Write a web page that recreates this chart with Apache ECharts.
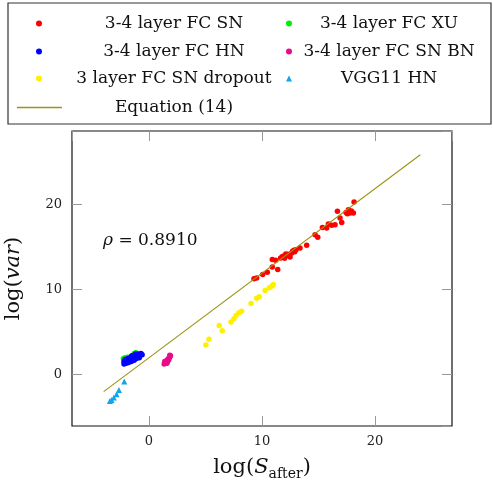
<!DOCTYPE html>
<html>
<head>
<meta charset="utf-8">
<script src="https://cdn.jsdelivr.net/npm/echarts@6/dist/echarts.min.js"></script>
<style>html,body{margin:0;padding:0;background:#fff;}#c{width:493px;height:494px;}</style>
</head>
<body>
<div id="c"></div>
<script>
// ---- data ----
const snX = [9.29,9.53,10.06,10.47,10.91,11.39,10.91,11.21,11.65,11.89,12.18,12.48,12.63,12.83,13.0,13.36,13.95,14.69,14.93,15.34,15.72,15.87,16.17,16.46,16.67,16.9,17.05,17.43,17.64,17.79,18.08,18.14,12.3,12.0,11.8,12.9,17.55,17.9,12.7,12.1];
const snY = [11.26,11.37,11.76,12.04,12.67,12.35,13.53,13.45,13.73,13.92,14.0,13.85,14.31,14.63,14.7,14.9,15.21,16.47,16.16,17.33,17.25,17.73,17.57,17.65,19.22,18.43,17.92,19.1,19.41,19.02,19.02,20.31,14.15,13.7,13.9,14.45,18.95,19.25,14.5,14.2];
const xuX = [-2.25,-2.1,-1.9,-1.3,-1.15,-2.0,-1.6,-0.9,-1.8,-1.4];
const xuY = [1.85,1.95,2.0,2.45,2.55,1.7,2.1,2.3,1.5,1.9];
const hnX = [-2.2,-2.2,-2.1,-2.0,-1.95,-1.85,-1.8,-1.7,-1.6,-1.55,-1.45,-1.4,-1.3,-1.25,-1.2,-1.1,-1.0,-0.95,-0.85,-0.75,-0.6,-0.7,-1.5];
const hnY = [1.2,1.5,1.75,1.3,1.6,1.85,1.4,1.7,2.0,1.5,1.8,2.2,1.65,2.0,2.4,1.85,2.15,2.4,1.95,2.25,2.3,2.45,2.2];
const bnX = [1.35,1.4,1.45,1.5,1.55,1.6,1.65,1.7,1.75,1.8,1.85,1.9,1.85,1.4,1.6];
const bnY = [1.2,1.35,1.3,1.5,1.4,1.65,1.55,1.8,1.7,1.95,2.05,2.2,2.25,1.5,1.3];
const doX = [5.04,5.31,6.22,6.49,7.26,7.52,7.70,7.96,8.2,9.03,9.53,9.76,10.27,10.65,10.86,11.0];
const doY = [3.45,4.12,5.76,5.14,6.16,6.55,6.94,7.25,7.45,8.35,8.98,9.14,9.88,10.2,10.39,10.59];
const vggX = [-2.18,-2.65,-2.86,-3.10,-3.45,-3.30];
const vggY = [-0.86,-1.84,-2.35,-2.75,-3.14,-3.02];
const eqX = [-4, 24];
const eqY = [-2.04, 25.9];
const xTicks = [0, 10, 20];
const yTicks = [0, 10, 20];
const names = ['3-4 layer FC SN','3-4 layer FC XU','3-4 layer FC HN','3-4 layer FC SN BN','3 layer FC SN dropout','VGG11 HN','Equation (14)'];

const zip = (a, b) => a.map((v, i) => [v, b[i]]);
const FONT = '"DejaVu Serif", serif';

const chart = echarts.init(document.getElementById('c'), null, {renderer: 'canvas'});

function sc(name, xs, ys, color, symbol, size) {
  return {name, type: 'scatter', data: zip(xs, ys), symbol: symbol || 'circle', symbolSize: size || 5.5,
    itemStyle: {color, opacity: 1}, emphasis: {disabled: true}, xAxisIndex: 0, yAxisIndex: 0, z: 2};
}

function leg(name, left, top, icon, w, h, textW) {
  return {data: [{name, icon}], left, top, padding: 0, itemWidth: w, itemHeight: h, itemGap: 0, itemTextGap: 5,
    selectedMode: false, orient: 'horizontal',
    formatter: n => '{t|' + n + '}',
    textStyle: {rich: {t: {width: textW, align: 'center', fontFamily: FONT, fontSize: 17, color: '#111', lineHeight: 20}}}};
}

const tickStyle = {inside: true, length: 10, lineStyle: {color: '#999'}};
const noLine = {show: false, onZero: false};

const option = {
  animation: false,
  backgroundColor: '#fff',
  grid: {left: 72, right: 41, top: 131, bottom: 68, show: true, borderColor: '#111', borderWidth: 1.2,
    backgroundColor: 'transparent', containLabel: false, outerBoundsMode: 'none'},
  xAxis: [
    {type: 'value', min: -6.8, max: 26.8, splitNumber: 3, minInterval: 10, maxInterval: 10,
     axisLine: noLine, splitLine: {show: false}, axisTick: tickStyle,
     axisLabel: {showMinLabel: false, showMaxLabel: false, margin: 9, fontFamily: FONT, fontSize: 13, color: '#222',
       formatter: v => xTicks.includes(v) ? String(v) : ''},
     name: '{n|log(}{i|S}{s|after}{n|)}', nameLocation: 'middle', nameGap: 29,
     nameTextStyle: {rich: {
       n: {fontFamily: FONT, fontSize: 21, color: '#111', lineHeight: 26},
       i: {fontFamily: FONT, fontSize: 21, fontStyle: 'italic', color: '#111', lineHeight: 26},
       s: {fontFamily: FONT, fontSize: 14, color: '#111', lineHeight: 14, verticalAlign: 'bottom'}}}},
    {type: 'value', position: 'top', min: -6.8, max: 26.8, splitNumber: 3, minInterval: 10, maxInterval: 10,
     axisLine: noLine, splitLine: {show: false}, axisLabel: {show: false}, axisTick: tickStyle}
  ],
  yAxis: [
    {type: 'value', min: -6.1, max: 28.7, splitNumber: 3, minInterval: 10, maxInterval: 10,
     axisLine: noLine, splitLine: {show: false}, axisTick: tickStyle,
     axisLabel: {showMinLabel: false, showMaxLabel: false, margin: 10, fontFamily: FONT, fontSize: 13, color: '#222',
       formatter: v => yTicks.includes(v) ? String(v) : ''},
     name: '{n|log(}{i|var}{n|)}', nameLocation: 'middle', nameGap: 48, nameRotate: 90,
     nameTextStyle: {rich: {
       n: {fontFamily: FONT, fontSize: 21, color: '#111'},
       i: {fontFamily: FONT, fontSize: 21, fontStyle: 'italic', color: '#111'}}}},
    {type: 'value', position: 'right', min: -6.1, max: 28.7, splitNumber: 3, minInterval: 10, maxInterval: 10,
     axisLine: noLine, splitLine: {show: false}, axisLabel: {show: false}, axisTick: tickStyle}
  ],
  legend: [
    leg(names[0], 36, 15, 'circle', 6, 6, 254),
    leg(names[2], 36, 43, 'circle', 6, 6, 254),
    leg(names[4], 36, 70, 'circle', 6, 6, 254),
    leg(names[6], 17, 99, 'rect', 45, 1.3, 214),
    leg(names[1], 286, 15, 'circle', 6, 6, 184),
    leg(names[3], 286, 43, 'circle', 6, 6, 184),
    leg(names[5], 286, 70, 'triangle', 6, 6, 184)
  ],
  graphic: [
    {type: 'rect', shape: {x: 8, y: 3, width: 483, height: 121}, style: {fill: 'none', stroke: '#333', lineWidth: 1.2}, z: -1},
    {type: 'text', left: 103, top: 232, style: {text: '{i|ρ} = 0.8910', rich: {i: {fontStyle: 'italic', fontFamily: FONT, fontSize: 17}}, fontFamily: FONT, fontSize: 17, fill: '#111'}}
  ],
  series: [
    sc(names[0], snX, snY, '#ff0000'),
    sc(names[1], xuX, xuY, '#00f000'),
    sc(names[2], hnX, hnY, '#0000ff'),
    sc(names[3], bnX, bnY, '#ea0a8c'),
    sc(names[4], doX, doY, '#fff000'),
    sc(names[5], vggX, vggY, '#12a4ec', 'triangle', 6),
    {name: names[6], type: 'line', data: zip(eqX, eqY), symbol: 'none', showSymbol: false,
     lineStyle: {color: '#9c9412', width: 1.1}, itemStyle: {color: '#9c9412'}, emphasis: {disabled: true}, z: 3}
  ]
};
chart.setOption(option);
</script>
</body>
</html>
